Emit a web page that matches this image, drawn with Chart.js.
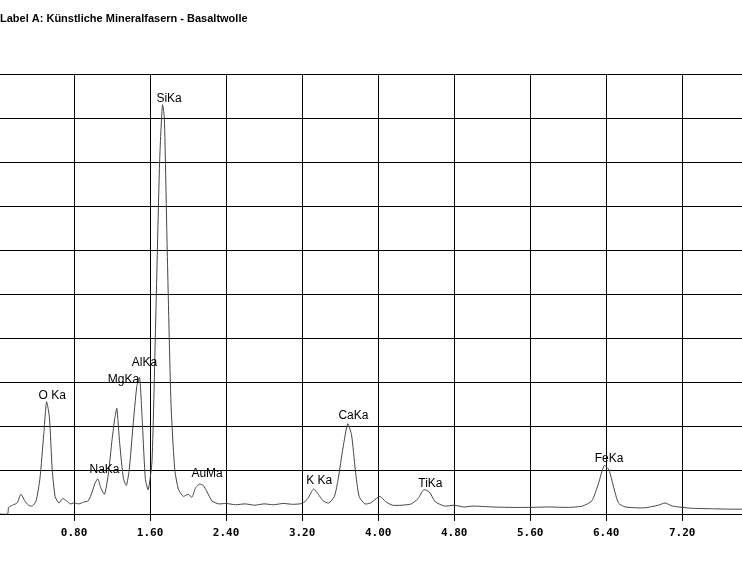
<!DOCTYPE html>
<html>
<head>
<meta charset="utf-8">
<script src="https://cdn.jsdelivr.net/npm/chart.js@4"></script>
<style>
  body { margin: 0; background: #fff; }
  #wrap { width: 742px; height: 577px; }
</style>
</head>
<body>
<div id="wrap"><canvas id="spektrum"></canvas></div>
<script>
const titel = 'Label A: Künstliche Mineralfasern - Basaltwolle';

// Energie (keV) und Zählrate (% vom Vollausschlag)
const energie = [0.00, 0.10, 0.11, 0.15, 0.20, 0.24, 0.28, 0.32, 0.36, 0.40, 0.44, 0.48, 0.51, 0.54, 0.57, 0.60, 0.64, 0.68, 0.72, 0.76,
  0.80, 0.85, 0.90, 0.95, 0.99, 1.02, 1.05, 1.08, 1.12, 1.16, 1.20, 1.23, 1.25, 1.28, 1.32, 1.35, 1.38, 1.42, 1.46, 1.49,
  1.52, 1.55, 1.58, 1.62, 1.66, 1.70, 1.73, 1.75, 1.78, 1.82, 1.86, 1.90, 1.95, 2.00, 2.04, 2.08, 2.12, 2.16, 2.20, 2.25,
  2.32, 2.40, 2.50, 2.60, 2.70, 2.80, 2.90, 3.00, 3.10, 3.20, 3.26, 3.32, 3.37, 3.42, 3.48, 3.54, 3.58, 3.63, 3.68, 3.72,
  3.76, 3.80, 3.86, 3.92, 3.98, 4.02, 4.08, 4.15, 4.25, 4.35, 4.42, 4.48, 4.54, 4.60, 4.70, 4.80, 4.90, 5.00, 5.20, 5.40,
  5.60, 5.80, 6.00, 6.15, 6.25, 6.32, 6.38, 6.43, 6.48, 6.53, 6.60, 6.80, 6.95, 7.02, 7.10, 7.30, 7.50, 7.70, 7.84];
const zaehlrate = [0, 0, 1.5, 2, 2.5, 4.5, 3, 2, 1.8, 3, 8, 18, 25.5, 22, 10, 4, 2.5, 3.5, 3, 2.3,
  2.5, 2.3, 2.7, 3, 5, 7, 8, 6, 4.5, 9, 17, 22, 24, 16, 8, 6.5, 10, 20, 29, 31,
  20, 8, 5.5, 12, 45, 80, 93, 90, 60, 25, 10, 5.5, 4, 4.5, 3.8, 6, 6.8, 6.5, 5, 3,
  2.3, 2.4, 2.1, 2.3, 2.0, 2.3, 2.1, 2.4, 2.2, 2.4, 3.5, 5.7, 4.5, 3, 2.5, 4, 8, 15, 20.5, 18,
  10, 4, 2.3, 2.5, 3.5, 4, 2.8, 2, 2, 2.3, 3.5, 5.5, 5, 2.8, 1.8, 2, 1.6, 1.8, 1.6, 1.5,
  1.5, 1.6, 1.5, 1.8, 3, 7, 11, 10, 6, 2.5, 1.6, 1.4, 2, 2.5, 1.8, 1.3, 1.2, 1.1, 1.1];

// Peak-Beschriftungen
const linien = ['O Ka', 'NaKa', 'MgKa', 'AlKa', 'SiKa', 'AuMa', 'K Ka', 'CaKa', 'TiKa', 'FeKa'];
const linienE = [0.57, 1.12, 1.32, 1.54, 1.80, 2.20, 3.38, 3.74, 4.55, 6.43];
const linienY = [27, 10, 30.5, 34.5, 94.5, 9.2, 7.5, 22.3, 7, 12.5];

const achsenTicks = [0.8, 1.6, 2.4, 3.2, 4.0, 4.8, 5.6, 6.4, 7.2];

const beschriftung = {
  id: 'beschriftung',
  afterDatasetsDraw(chart) {
    const { ctx, scales } = chart;
    ctx.save();
    ctx.fillStyle = '#000';
    ctx.font = '12px "Liberation Sans", Arial, sans-serif';
    ctx.textAlign = 'center';
    ctx.textBaseline = 'middle';
    linien.forEach((txt, i) => {
      ctx.fillText(txt, scales.x.getPixelForValue(linienE[i]), scales.y.getPixelForValue(linienY[i]));
    });
    ctx.textAlign = 'left';
    ctx.font = 'bold 11px "Liberation Sans", Arial, sans-serif';
    ctx.fillText(titel, 0, 19);
    ctx.restore();
  }
};

new Chart(document.getElementById('spektrum'), {
  type: 'scatter',
  data: {
    datasets: [{
      data: energie.map((e, i) => ({ x: e, y: zaehlrate[i] })),
      showLine: true,
      borderColor: '#444',
      borderWidth: 1,
      pointRadius: 0,
      tension: 0.2
    }]
  },
  options: {
    responsive: true,
    maintainAspectRatio: false,
    animation: false,
    layout: { padding: { top: 74, left: 0, right: 0 } },
    plugins: { legend: { display: false }, tooltip: { enabled: false } },
    scales: {
      x: {
        type: 'linear',
        min: 0.02,
        max: 7.83,
        afterBuildTicks(axis) { axis.ticks = achsenTicks.map(v => ({ value: v })); },
        afterFit(axis) { axis.height = 63; },
        border: { color: '#000', width: 1 },
        grid: { color: '#000', lineWidth: 1, tickLength: 7 },
        ticks: {
          color: '#000',
          font: { family: '"DejaVu Sans Mono", monospace', weight: 'bold', size: 11 },
          padding: 6,
          maxRotation: 0,
          callback: v => v.toFixed(2)
        }
      },
      y: {
        min: 0,
        max: 100,
        afterFit(axis) { axis.width = 0; },
        border: { display: false },
        grid: { color: '#000', lineWidth: 1, drawTicks: false },
        ticks: { display: false, stepSize: 10 }
      }
    }
  },
  plugins: [beschriftung]
});
</script>
</body>
</html>
